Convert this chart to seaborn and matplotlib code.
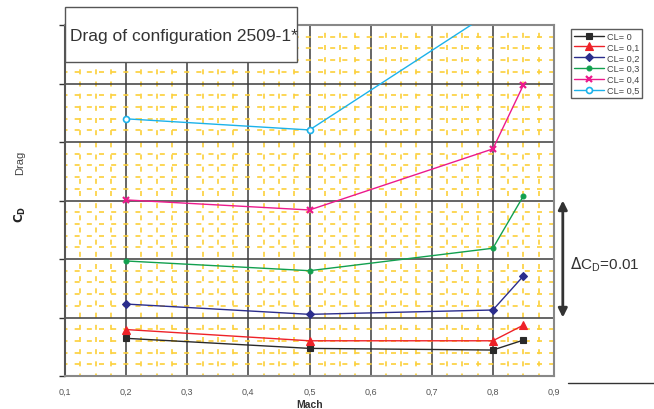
import matplotlib
matplotlib.use("Agg")
import matplotlib.pyplot as plt
import matplotlib.patches as mpatches
from matplotlib.lines import Line2D
from matplotlib.ticker import MultipleLocator, FuncFormatter
import seaborn as sns
import pandas as pd

# ---------------- data ----------------
mach = [0.2, 0.5, 0.8, 0.85]
cl_labels = ["CL= 0", "CL= 0,1", "CL= 0,2", "CL= 0,3", "CL= 0,4", "CL= 0,5"]
cd_cl00 = [0.02322, 0.02236, 0.02222, 0.02307]
cd_cl01 = [0.02397, 0.02301, 0.02301, 0.02435]
cd_cl02 = [0.02615, 0.02527, 0.02564, 0.02855]
cd_cl03 = [0.02983, 0.02900, 0.03092, 0.03539]
cd_cl04 = [0.03505, 0.03419, 0.03941, 0.04488]
mach_cl05 = [0.2, 0.5, 0.8]
cd_cl05 = [0.04198, 0.04103, 0.05121]
x_ticks = [0.1, 0.2, 0.3, 0.4, 0.5, 0.6, 0.7, 0.8, 0.9]
title_text = "Drag of configuration 2509-1*"
delta_text = r"$\Delta$C$_\mathregular{D}$=0.01"

series = [
    (mach, cd_cl00, cl_labels[0]),
    (mach, cd_cl01, cl_labels[1]),
    (mach, cd_cl02, cl_labels[2]),
    (mach, cd_cl03, cl_labels[3]),
    (mach, cd_cl04, cl_labels[4]),
    (mach_cl05, cd_cl05, cl_labels[5]),
]
styles = [
    dict(color="#2a2a2a", marker="s", ms=4.2, mfc="#2a2a2a", mec="#2a2a2a", mew=0.8),
    dict(color="#ee2229", marker="^", ms=5.2, mfc="#ee2229", mec="#ee2229", mew=0.8),
    dict(color="#2b2d8c", marker="D", ms=3.8, mfc="#2b2d8c", mec="#2b2d8c", mew=0.8),
    dict(color="#12a04f", marker="o", ms=3.5, mfc="#12a04f", mec="#12a04f", mew=0.8),
    dict(color="#ec1a8c", marker="x", ms=4.2, mfc="#ec1a8c", mec="#ec1a8c", mew=1.6),
    dict(color="#1cb2ea", marker="o", ms=4.3, mfc="white", mec="#1cb2ea", mew=1.2),
]

sns.set_style("white")
plt.rcParams["font.family"] = ["Liberation Sans", "DejaVu Sans"]

fig = plt.figure(figsize=(6.54, 4.10), dpi=100)
L, R, T, B = 65 / 654, 554 / 654, 1 - 26 / 410, 1 - 377 / 410
ax = fig.add_axes([L, B, R - L, T - B])

for (xs, ys, lab), st in zip(series, styles):
    df = pd.DataFrame({"Mach": xs, "CD": ys})
    sns.lineplot(data=df, x="Mach", y="CD", ax=ax, color=st["color"], lw=1.0,
                 marker=st["marker"], markersize=st["ms"], markerfacecolor=st["mfc"],
                 markeredgecolor=st["mec"], markeredgewidth=st["mew"], label=lab,
                 zorder=5, legend=False)

ax.set_xlim(0.1, 0.9)
ax.set_ylim(0.020, 0.050)
ax.xaxis.set_major_locator(MultipleLocator(0.1))
ax.xaxis.set_minor_locator(MultipleLocator(0.025))
ax.yaxis.set_major_locator(MultipleLocator(0.005))
ax.yaxis.set_minor_locator(MultipleLocator(0.001))
ax.set_xticks(x_ticks)
ax.xaxis.set_major_formatter(FuncFormatter(lambda v, p: f"{v:.1f}".replace(".", ",")))
ax.set_yticklabels([])

ax.grid(which="minor", color="#fcd03a", lw=1.2, linestyle=(1.5, (3.0, 4.3)), zorder=0)
ax.grid(which="major", color="#3c3c3c", lw=1.1, linestyle="-", zorder=1)
ax.set_axisbelow(True)

ax.tick_params(axis="x", which="major", labelsize=6.5, labelcolor="#555555",
               length=0, pad=8)
ax.tick_params(axis="y", which="major", length=4, width=1, color="#333333",
               direction="out", left=True)
ax.tick_params(which="minor", length=0)

for side in ["top", "right", "bottom"]:
    ax.spines[side].set_color("#888888")
    ax.spines[side].set_linewidth(1.5)
ax.spines["left"].set_color("#555555")
ax.spines["left"].set_linewidth(1.5)

ax.set_xlabel("Mach", fontsize=7.5, fontweight="bold", color="#333333", labelpad=2)
ax.set_ylabel("")

# y-axis label pieces
fig.text(20 / 654, 1 - 214 / 410, r"$\mathbf{C_D}$", rotation=90, fontsize=8.5,
         color="#222222", ha="center", va="center")
fig.text(20 / 654, 1 - 163 / 410, "Drag", rotation=90, fontsize=8,
         color="#444444", ha="center", va="center")

# title box
fig.add_artist(mpatches.Rectangle((65 / 654, 1 - 63 / 410), 232 / 654, 55 / 410,
                                  transform=fig.transFigure, facecolor="white",
                                  edgecolor="#555555", lw=1.0, zorder=10))
fig.text(70 / 654, 1 - 37 / 410, title_text, fontsize=12.5, color="#333333",
         ha="left", va="center", zorder=11)

# delta CD arrow
ax.annotate("", xy=(1.018, 0.0350), xytext=(1.018, 0.0250),
            xycoords=("axes fraction", "data"), textcoords=("axes fraction", "data"),
            arrowprops=dict(arrowstyle="<|-|>", color="#333333", lw=2,
                            mutation_scale=13, shrinkA=0, shrinkB=0),
            annotation_clip=False)
fig.text(570 / 654, 1 - 265 / 410, delta_text, fontsize=11, color="#333333",
         ha="left", va="center")

# stray baseline at the right of the plot
fig.add_artist(Line2D([568 / 654, 1.0], [1 - 384 / 410, 1 - 384 / 410],
                      transform=fig.transFigure, color="#333333", lw=1))

# legend
handles = [Line2D([0], [0], color=st["color"], lw=1.0, marker=st["marker"],
                  markersize=st["ms"], markerfacecolor=st["mfc"],
                  markeredgecolor=st["mec"], markeredgewidth=st["mew"])
           for st in styles]
leg = fig.legend(handles, cl_labels, loc="upper left",
                 bbox_to_anchor=(571 / 654, 1 - 30 / 410), fontsize=6.6,
                 frameon=True, fancybox=False, edgecolor="#333333",
                 handlelength=3.3, labelspacing=0.2, borderpad=0.3,
                 handletextpad=0.3, borderaxespad=0)
leg.get_frame().set_linewidth(1.0)
for t in leg.get_texts():
    t.set_color("#444444")

fig.savefig("out.png", dpi=100)
